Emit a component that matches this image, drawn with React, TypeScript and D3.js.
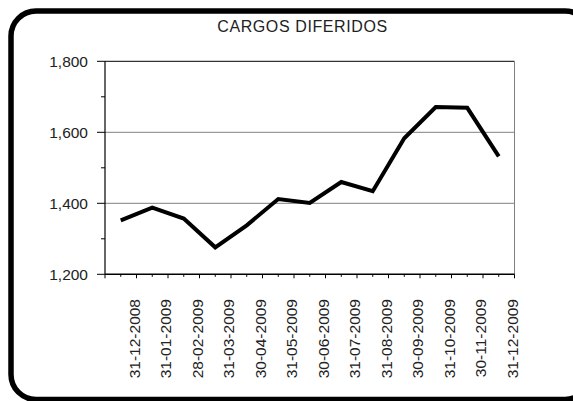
import React from "react";
import * as d3 from "d3";

const title = "CARGOS DIFERIDOS";
const categories = [
  "31-12-2008", "31-01-2009", "28-02-2009", "31-03-2009", "30-04-2009",
  "31-05-2009", "30-06-2009", "31-07-2009", "31-08-2009", "30-09-2009",
  "31-10-2009", "30-11-2009", "31-12-2009",
];
const values = [1352, 1388, 1357, 1276, 1338, 1412, 1401, 1460, 1434, 1583, 1671, 1669, 1532];
const yTicks = [1200, 1400, 1600, 1800];
const yMinorTicks = [1300, 1500, 1700];
const gridValues = [1400, 1600];

const W = 573, H = 401;
const left = 105, right = 514.5, top = 61.3, bottom = 274.3;
const font = "'Liberation Sans', Arial, sans-serif";

export default function App() {
  const x = d3.scaleBand<string>().domain(categories).range([left, right]).padding(0);
  const y = d3.scaleLinear().domain([1200, 1800]).range([bottom, top]);
  const bw = x.bandwidth();
  const line = d3.line<number>()
    .x((_, i) => (x(categories[i]) as number) + bw / 2)
    .y((d) => y(d));
  const fmt = d3.format(",");

  return (
    <svg width={W} height={H} style={{ position: "absolute", left: 0, top: 0, background: "#fff" }}>
      <rect x={0} y={0} width={W} height={H} fill="#fff" />
      <rect x={11} y={11} width={579} height={388.5} rx={25} ry={25} fill="none" stroke="#000" strokeWidth={5.5} />
      <text x={302.5} y={32.3} textAnchor="middle" fontFamily={font} fontSize={16} letterSpacing={0.6} fill="#222">{title}</text>

      {gridValues.map((v) => (
        <line key={v} x1={left} x2={right} y1={y(v)} y2={y(v)} stroke="#808080" strokeWidth={1} />
      ))}
      <line x1={left} x2={right} y1={y(1800)} y2={y(1800)} stroke="#000" strokeWidth={1} />
      <line x1={right} x2={right} y1={top} y2={bottom} stroke="#808080" strokeWidth={1} />

      <line x1={left} x2={left} y1={top} y2={bottom} stroke="#000" strokeWidth={1.2} />
      <line x1={left} x2={right} y1={bottom} y2={bottom} stroke="#000" strokeWidth={1.5} />

      {yTicks.map((v) => (
        <g key={v}>
          <line x1={left - 8} x2={left} y1={y(v)} y2={y(v)} stroke="#000" strokeWidth={1} />
          <text x={88} y={y(v)} dy="0.36em" textAnchor="end" fontFamily={font} fontSize={15.5} fill="#222">{fmt(v)}</text>
        </g>
      ))}
      {yMinorTicks.map((v) => (
        <line key={v} x1={left - 4} x2={left} y1={y(v)} y2={y(v)} stroke="#000" strokeWidth={1} />
      ))}

      {categories.map((c, i) => {
        const x0 = x(c) as number;
        return (
          <g key={c}>
            {i === 0 && <line x1={x0} x2={x0} y1={bottom} y2={bottom + 4} stroke="#000" strokeWidth={1} />}
            <line x1={x0 + bw} x2={x0 + bw} y1={bottom} y2={bottom + 4} stroke="#000" strokeWidth={1} />
            <line x1={x0 + bw / 2} x2={x0 + bw / 2} y1={bottom} y2={bottom + 2.5} stroke="#000" strokeWidth={1} />
            <text
              transform={`translate(${x0 + bw - 2.5},299) rotate(-90)`}
              dy="0.36em"
              textAnchor="end"
              fontFamily={font}
              fontSize={15.5}
              fill="#222"
            >{c}</text>
          </g>
        );
      })}

      <path d={line(values) || ""} fill="none" stroke="#000" strokeWidth={4} strokeLinejoin="miter" />
    </svg>
  );
}
